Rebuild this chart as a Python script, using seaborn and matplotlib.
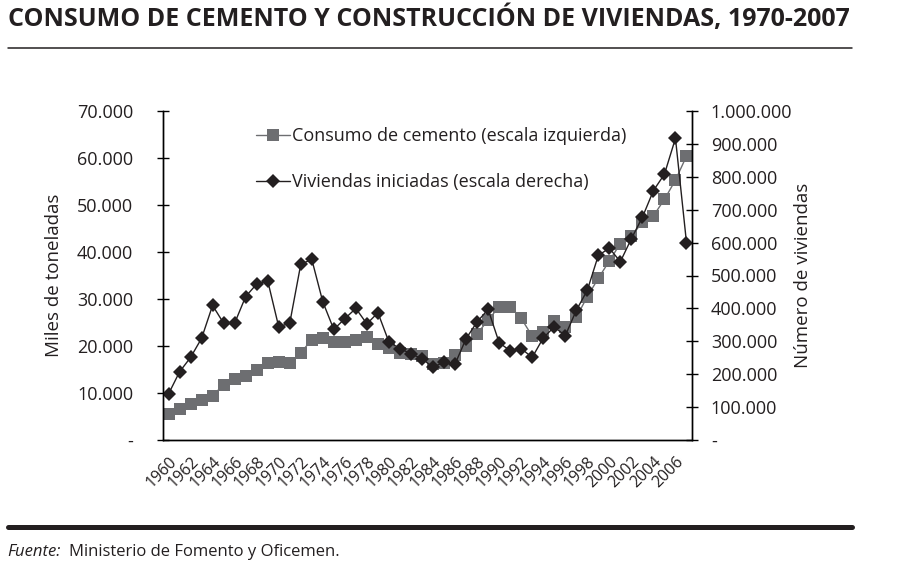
import numpy as np
import pandas as pd
import seaborn as sns
from matplotlib import pyplot as plt
from matplotlib.ticker import FuncFormatter
from matplotlib.lines import Line2D

# datos
anios = list(range(1960, 2008))
cemento = [5500, 6500, 7700, 8500, 9400, 11800, 12900, 13600, 14900, 16300,
           16500, 16400, 18600, 21300, 21800, 20800, 20900, 21300, 22000, 20400,
           19500, 18600, 18300, 17900, 16100, 16300, 18100, 20000, 22600, 25500,
           28400, 28400, 25900, 22100, 23000, 25400, 24100, 26100, 30500, 34400,
           38100, 41800, 43300, 46400, 47700, 51200, 55300, 60400]
viviendas = [140000, 207000, 251000, 309000, 409000, 355000, 355000, 436000, 474000, 484000,
             344000, 355000, 534000, 549000, 420000, 336000, 369000, 400000, 353000, 387000,
             298000, 278000, 262000, 247000, 221000, 237000, 231000, 308000, 359000, 397000,
             296000, 271000, 278000, 251000, 310000, 344000, 317000, 394000, 455000, 561000,
             583000, 542000, 612000, 677000, 758000, 808000, 917000, 600000]
etiqueta_cem = "Consumo de cemento (escala izquierda)"
etiqueta_viv = "Viviendas iniciadas (escala derecha)"

df = pd.DataFrame({"anio": anios, "cemento": cemento, "viviendas": viviendas})

sns.set_style("white")
plt.rcParams['font.family'] = ['Open Sans', 'DejaVu Sans']

gris = '#6d6e71'
negro = '#231f20'
texto = '#231f20'

fig = plt.figure(figsize=(9.06, 5.75), dpi=100)
ax = fig.add_axes([163/906, 1-440/575, 529/906, 329/575])
ax2 = ax.twinx()

sns.lineplot(data=df, x="anio", y="cemento", ax=ax, color=gris, marker='s',
             markersize=8, markeredgewidth=0, linewidth=1)
sns.lineplot(data=df, x="anio", y="viviendas", ax=ax2, color=negro, marker='D',
             markersize=7, markeredgewidth=0, linewidth=1)

def miles(v, pos):
    if abs(v) < 1:
        return '-'
    return f"{int(round(v)):,}".replace(',', '.')

ax.set_ylim(0, 70000)
ax.set_yticks(range(0, 70001, 10000))
ax.yaxis.set_major_formatter(FuncFormatter(miles))
ax2.set_ylim(0, 1000000)
ax2.set_yticks(range(0, 1000001, 100000))
ax2.yaxis.set_major_formatter(FuncFormatter(miles))

ax.set_xlim(1959.5, 2007.5)
ax.set_xticks(anios[::2])
ax.set_xticklabels([str(a) for a in anios[::2]], rotation=45, ha='right',
                   va='top', rotation_mode='anchor', fontsize=11.5, color=texto)
ax.set_xticks(np.arange(1959.5, 2008, 1), minor=True)
ax.tick_params(axis='x', which='major', length=0, pad=10)
ax.tick_params(axis='x', which='minor', direction='inout', length=9, width=1, color='black')
ax.tick_params(axis='y', direction='inout', length=9, width=1, color='black',
               labelsize=13, labelcolor=texto, pad=17, left=True)
ax2.tick_params(axis='y', direction='inout', length=9, width=1, color='black',
                labelsize=13, labelcolor=texto, pad=9, right=True)

ax.set_xlabel("")
ax.set_ylabel("Miles de toneladas", fontsize=13.5, color=texto, labelpad=10)
ax2.set_ylabel("Número de viviendas", fontsize=13.5, color=texto, labelpad=1)

for a in (ax, ax2):
    a.spines['top'].set_visible(False)
    for s in ('left', 'right', 'bottom'):
        a.spines[s].set_color('black')
        a.spines[s].set_linewidth(1)
ax.grid(False)
ax2.grid(False)

handles = [Line2D([], [], color=gris, marker='s', markersize=8, markeredgewidth=0, linewidth=1),
           Line2D([], [], color=negro, marker='D', markersize=7, markeredgewidth=0, linewidth=1)]
ax2.legend(handles, [etiqueta_cem, etiqueta_viv], loc='upper left',
           bbox_to_anchor=(256/906, 1-127/575), bbox_transform=fig.transFigure,
           frameon=False, fontsize=13, handlelength=1.9, handletextpad=0.1,
           labelspacing=1.55, borderpad=0, borderaxespad=0, labelcolor=texto)

# titulo, lineas y fuente
fig.text(8/906, 1-19/575, "CONSUMO DE CEMENTO Y CONSTRUCCIÓN DE VIVIENDAS, 1970-2007",
         fontsize=18, fontweight='bold', color=texto, ha='left', va='center')
fig.add_artist(Line2D([8/906, 852/906], [1-48/575, 1-48/575], color=texto, linewidth=1.1))
fig.add_artist(Line2D([8/906, 852/906], [1-527/575, 1-527/575], color=texto, linewidth=3.6))
fig.text(7/906, 1-552/575, "Fuente:", fontsize=12, style='italic', color=texto,
         ha='left', va='center')
fig.text(69/906, 1-552/575, "Ministerio de Fomento y Oficemen.", fontsize=12,
         color=texto, ha='left', va='center')

fig.savefig("out.png", dpi=100)
